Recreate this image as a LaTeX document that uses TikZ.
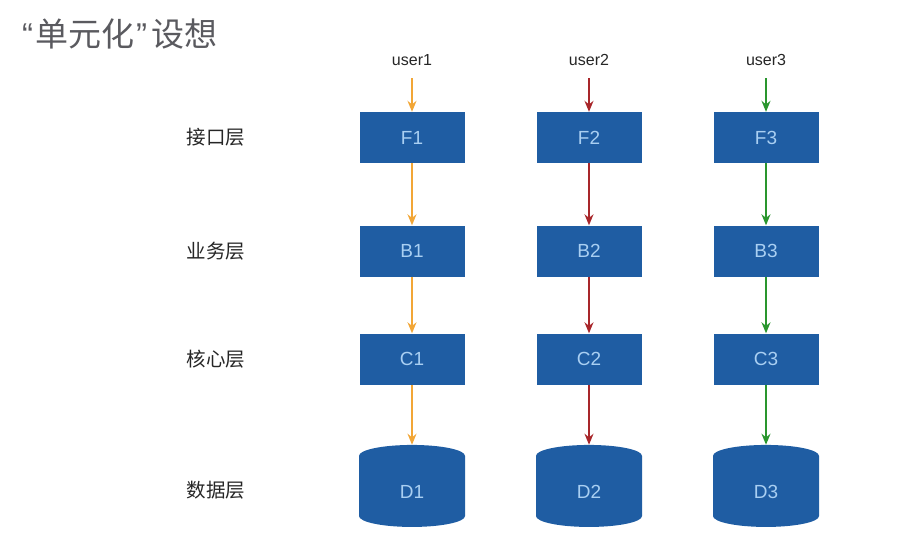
\documentclass[tikz,border=0pt]{standalone}
\usepackage{fontspec}
\setmainfont{Liberation Sans}
\newfontfamily\cjk{Noto Sans CJK SC}
\usetikzlibrary{shapes.geometric,arrows.meta}
\definecolor{boxblue}{HTML}{1F5DA3}
\definecolor{boxtext}{HTML}{A9CFF2}
\definecolor{corange}{HTML}{F2A636}
\definecolor{cred}{HTML}{A8262A}
\definecolor{cgreen}{HTML}{2A962E}
\definecolor{titlegray}{HTML}{5A5A5F}
\tikzset{
  layerbox/.style={rectangle, fill=boxblue, minimum width=105pt, minimum height=51pt, inner sep=0pt, text=boxtext, font=\fontsize{19pt}{19pt}\selectfont},
  dbbox/.style={cylinder, shape border rotate=90, aspect=0.9, fill=boxblue, minimum width=106pt, minimum height=82pt, inner sep=0pt, text=boxtext, font=\fontsize{19pt}{19pt}\selectfont},
  userlbl/.style={font=\fontsize{16pt}{16pt}\selectfont, text=black!85},
  rowlbl/.style={font=\cjk\fontsize{19.5pt}{19.5pt}\selectfont, text=black!85},
  flow/.style={line width=1.5pt, -{Stealth[length=11pt,width=9pt]}},
}
\begin{document}
\begin{tikzpicture}[x=1pt,y=-1pt]
\useasboundingbox (0,0) rectangle (920,542);
\node[anchor=west, text=titlegray, font=\fontsize{33pt}{33pt}\selectfont, inner sep=0pt] (title) at (22,34) {“\kern2pt{\cjk 单元化}\kern2pt”\kern4pt{\cjk 设想}};
\node[rowlbl] (l1) at (216,137) {接口层};
\node[rowlbl] (l2) at (216,251) {业务层};
\node[rowlbl] (l3) at (216,359) {核心层};
\node[rowlbl] (l4) at (216,490) {数据层};
\foreach \i/\x/\c in {1/412/corange, 2/589/cred, 3/766/cgreen} {
  \node[userlbl] (u\i) at (\x,60) {user\i};
  \node[layerbox] (F\i) at (\x,137.5) {F\i};
  \node[layerbox] (B\i) at (\x,251) {B\i};
  \node[layerbox] (C\i) at (\x,359) {C\i};
  \node[dbbox] (D\i) at (\x,491.5) {D\i};
  \draw[flow,\c] ([yshift=-9pt]u\i.south) -- (F\i.north);
  \draw[flow,\c] (F\i) -- (B\i);
  \draw[flow,\c] (B\i) -- (C\i);
  \draw[flow,\c] (C\i.south) -- (D\i.top);
}
\end{tikzpicture}
\end{document}
